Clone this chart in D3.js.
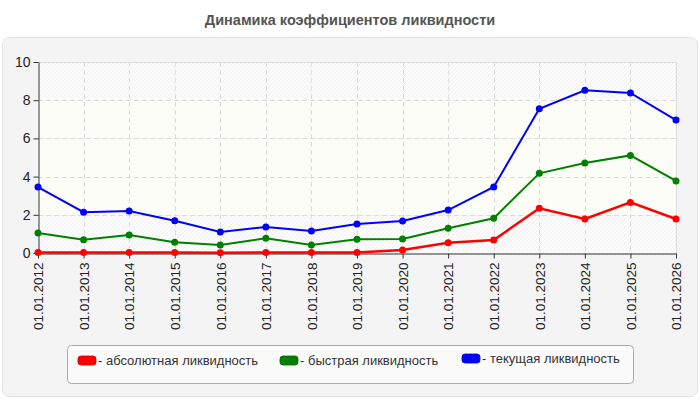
<!DOCTYPE html>
<html>
<head>
<meta charset="utf-8">
<script src="https://cdn.jsdelivr.net/npm/d3@7"></script>
<style>
  body { margin: 0; background: #fff; }
  svg { display: block; font-family: "Liberation Sans", Arial, sans-serif; }
</style>
</head>
<body>
<script>
// data
const years = ['01.01.2012', '01.01.2013', '01.01.2014', '01.01.2015', '01.01.2016', '01.01.2017', '01.01.2018',
  '01.01.2019', '01.01.2020', '01.01.2021', '01.01.2022', '01.01.2023', '01.01.2024', '01.01.2025', '01.01.2026'];
const absolute = [0.03, 0.03, 0.03, 0.02, 0.01, 0.03, 0.02, 0.02, 0.16, 0.54, 0.68, 2.34, 1.78, 2.65, 1.78];
const quick = [1.05, 0.7, 0.94, 0.56, 0.42, 0.77, 0.42, 0.72, 0.73, 1.3, 1.82, 4.17, 4.71, 5.11, 3.77];
const current = [3.45, 2.14, 2.2, 1.69, 1.1, 1.36, 1.15, 1.52, 1.68, 2.25, 3.46, 7.55, 8.52, 8.38, 6.96];
const yTicks = [0, 2, 4, 6, 8, 10];
const seriesNames = ['- абсолютная ликвидность', '- быстрая ликвидность', '- текущая ликвидность'];
const colors = ['#ff0000', '#008000', '#0000ff'];

const width = 700, height = 400;
const margin = { top: 62, left: 38, bottom: 147, right: 24 };

const svg = d3.select('body').append('svg').attr('width', width).attr('height', height);

// hatch pattern
const defs = svg.append('defs');
const pat = defs.append('pattern')
  .attr('id', 'hatch').attr('patternUnits', 'userSpaceOnUse')
  .attr('width', 4).attr('height', 4);
pat.append('rect').attr('width', 4).attr('height', 4).attr('fill', '#fdfdfd');
pat.append('path').attr('d', 'M-1,1 l2,-2 M0,4 l4,-4 M3,5 l2,-2')
  .attr('stroke', '#efefef').attr('stroke-width', 1);

// title
svg.append('text')
  .attr('x', width / 2).attr('y', 25)
  .attr('text-anchor', 'middle')
  .attr('font-size', '14.5px').attr('font-weight', 'bold')
  .attr('fill', '#555')
  .text('Динамика коэффициентов ликвидности');

// panel
svg.append('rect')
  .attr('x', 2.5).attr('y', 37.5).attr('width', 695).attr('height', 359)
  .attr('rx', 7).attr('fill', '#f4f4f4').attr('stroke', '#e2e2e2');

// scales
const x = d3.scalePoint().domain(years).range([margin.left, width - margin.right]);
const y = d3.scaleLinear().domain([0, 10]).range([height - margin.bottom, margin.top]);

// plot background
svg.append('rect')
  .attr('x', margin.left).attr('y', y(10))
  .attr('width', x.range()[1] - margin.left).attr('height', y(0) - y(10))
  .attr('fill', 'url(#hatch)');
svg.append('rect')
  .attr('x', margin.left).attr('y', y(8))
  .attr('width', x.range()[1] - margin.left).attr('height', y(2) - y(8))
  .attr('fill', '#fdfdf8');

// grid
svg.append('g')
  .selectAll('line')
  .data(yTicks.slice(1, -1))
  .enter()
  .append('line')
  .attr('x1', margin.left).attr('x2', x.range()[1])
  .attr('y1', (d) => Math.round(y(d)) + 0.5).attr('y2', (d) => Math.round(y(d)) + 0.5)
  .attr('stroke', '#dcdcdc').attr('stroke-dasharray', '5,3');
svg.append('g')
  .selectAll('line')
  .data(years.slice(1, -1))
  .enter()
  .append('line')
  .attr('x1', (d) => Math.round(x(d)) + 0.5).attr('x2', (d) => Math.round(x(d)) + 0.5)
  .attr('y1', y(10)).attr('y2', y(0))
  .attr('stroke', '#dcdcdc').attr('stroke-dasharray', '5,3');

// plot border top / right
svg.append('path')
  .attr('d', `M${margin.left},${Math.round(y(10)) + 0.5}H${Math.round(x.range()[1]) + 0.5}V${y(0)}`)
  .attr('fill', 'none').attr('stroke', '#dcdcdc');

// axes
const xAxis = (g) =>
  g.attr('transform', `translate(0, ${Math.round(y(0)) + 0.5})`)
    .call(d3.axisBottom(x).tickSize(5).tickSizeOuter(0))
    .call((g) => g.select('.domain').attr('stroke', '#333'))
    .call((g) => g.selectAll('.tick line').attr('stroke', '#333'))
    .call((g) => g.selectAll('.tick text')
      .attr('transform', 'rotate(-90)')
      .attr('text-anchor', 'end')
      .attr('x', -9).attr('y', 0).attr('dy', '0.35em')
      .attr('font-size', '13.5px').attr('fill', '#222')
      .attr('font-family', '"Liberation Sans", Arial, sans-serif'));

const yAxis = (g) =>
  g.attr('transform', `translate(${Math.round(margin.left) + 0.5}, 0)`)
    .call(d3.axisLeft(y).tickValues(yTicks).tickSize(5).tickSizeOuter(0))
    .call((g) => g.select('.domain').attr('stroke', '#333'))
    .call((g) => g.selectAll('.tick line').attr('stroke', '#333'))
    .call((g) => g.selectAll('.tick text')
      .attr('font-size', '14px').attr('fill', '#222')
      .attr('font-family', '"Liberation Sans", Arial, sans-serif'));

svg.append('g').call(xAxis);
svg.append('g').call(yAxis);

// lines
const series = [absolute, quick, current];
const line = d3.line()
  .x((d, i) => x(years[i]))
  .y((d) => y(d));

series.forEach((s, k) => {
  svg.append('path')
    .datum(s)
    .attr('fill', 'none')
    .attr('stroke', colors[k])
    .attr('stroke-width', k === 0 ? 2.5 : 2)
    .attr('d', line);
  svg.append('g')
    .selectAll('circle')
    .data(s)
    .enter()
    .append('circle')
    .attr('cx', (d, i) => x(years[i]))
    .attr('cy', (d) => y(d))
    .attr('r', 3.5)
    .attr('fill', colors[k]);
});

// legend
svg.append('rect')
  .attr('x', 67.5).attr('y', 345.5).attr('width', 566).attr('height', 38)
  .attr('rx', 4).attr('fill', '#fbfbfb').attr('stroke', '#aaa');

const legendX = [78, 280, 462];
const legendY = [356, 356, 354];
const legend = svg.append('g')
  .selectAll('g')
  .data(seriesNames)
  .enter()
  .append('g')
  .attr('transform', (d, i) => `translate(${legendX[i]}, ${legendY[i]})`);
legend.append('rect')
  .attr('width', 18).attr('height', 9).attr('rx', 3)
  .attr('fill', (d, i) => colors[i])
  .attr('stroke', (d, i) => d3.color(colors[i]).darker(0.7))
  .attr('stroke-width', 0.8);
legend.append('text')
  .attr('x', 20).attr('y', 9)
  .attr('font-size', '13px').attr('fill', '#333')
  .text((d) => d);
</script>
</body>
</html>
